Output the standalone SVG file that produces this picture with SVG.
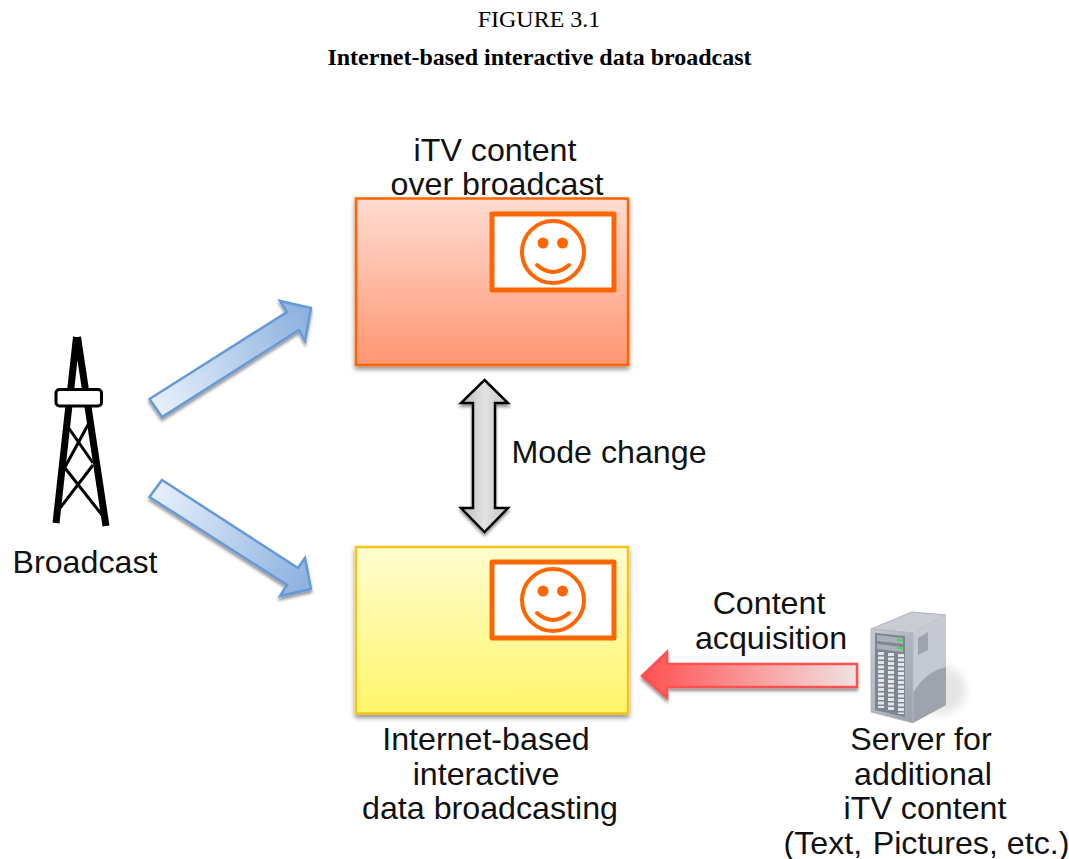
<svg xmlns="http://www.w3.org/2000/svg" width="1069" height="859" viewBox="0 0 1069 859">
<style>
.t{font-family:"Liberation Sans",Arial,sans-serif;font-size:32.200px;fill:#111;text-anchor:middle}
.cap{font-family:"Liberation Serif","Times New Roman",serif;font-size:24px;fill:#000;text-anchor:middle}
.frame{fill:#fff;stroke:#f60;stroke-width:5;stroke-linejoin:round}
.face{fill:none;stroke:#f60;stroke-width:4;stroke-linecap:round}
.eye{fill:#f60}
.blue{stroke:#659ad6;stroke-width:2.500;stroke-linejoin:miter;filter:url(#sh)}
.tw{stroke:#000;fill:none;stroke-linecap:butt}
</style>
<defs>
<filter id="sh" x="-20%" y="-20%" width="140%" height="140%"><feDropShadow dx="0" dy="3" stdDeviation="1.500" flood-color="#000" flood-opacity="0.4"/></filter>
<filter id="sh2" x="-20%" y="-20%" width="140%" height="140%"><feDropShadow dx="0" dy="3" stdDeviation="2.500" flood-color="#000" flood-opacity="0.45"/></filter>
<filter id="soft" x="-30%" y="-30%" width="160%" height="160%"><feGaussianBlur stdDeviation="5"/></filter>
<linearGradient id="org" x1="0" y1="0" x2="0" y2="1"><stop offset="0" stop-color="#ffdcd2"/><stop offset="1" stop-color="#ff9672"/></linearGradient>
<linearGradient id="yel" x1="0" y1="0" x2="0" y2="1"><stop offset="0" stop-color="#fffdd0"/><stop offset="1" stop-color="#fff56a"/></linearGradient>
<linearGradient id="b1" gradientUnits="userSpaceOnUse" x1="155" y1="408" x2="305" y2="318"><stop offset="0" stop-color="#e8f0fb"/><stop offset="1" stop-color="#8fb3e0"/></linearGradient>
<linearGradient id="b2" gradientUnits="userSpaceOnUse" x1="155" y1="488" x2="305" y2="578"><stop offset="0" stop-color="#e8f0fb"/><stop offset="1" stop-color="#8fb3e0"/></linearGradient>
<linearGradient id="red" gradientUnits="userSpaceOnUse" x1="642" y1="0" x2="857" y2="0"><stop offset="0" stop-color="#ff5050"/><stop offset="1" stop-color="#f0e2e2"/></linearGradient>
<linearGradient id="gr" x1="0" y1="0" x2="1" y2="0"><stop offset="0" stop-color="#bcbcbc"/><stop offset="0.5" stop-color="#e2e2e2"/><stop offset="1" stop-color="#c4c4c4"/></linearGradient>
<linearGradient id="sf" x1="0" y1="0" x2="1" y2="1"><stop offset="0" stop-color="#c5cad3"/><stop offset="1" stop-color="#9aa0ac"/></linearGradient>
<g id="smile">
<rect class="frame" x="492" y="0" width="122" height="76"/>
<circle class="face" cx="553" cy="38" r="31"/>
<circle class="eye" cx="543" cy="29" r="5.500"/><circle class="eye" cx="562.500" cy="29" r="5.500"/>
<path class="face" d="M537 51Q553 65 569 51"/>
</g>
</defs>
<g id="caption">
<text class="cap" x="539" y="27">FIGURE 3.1</text>
<text class="cap" x="539.500" y="65" font-weight="bold">Internet-based interactive data broadcast</text>
</g>
<g id="node-itv">
<rect x="356" y="198.500" width="272" height="166.500" fill="url(#org)" stroke="#f60" stroke-width="2.500" filter="url(#sh2)"/>
<use href="#smile" y="214"/>
<text class="t" x="495" y="160.500">iTV content</text>
<text class="t" x="497" y="194.500">over broadcast</text>
</g>
<g id="node-data">
<rect x="356" y="547" width="272" height="166.500" fill="url(#yel)" stroke="#f5c518" stroke-width="2.500" filter="url(#sh2)"/>
<use href="#smile" y="562"/>
<text class="t" x="486" y="749.500">Internet-based</text>
<text class="t" x="486" y="784.500">interactive</text>
<text class="t" x="490" y="818.500">data broadcasting</text>
</g>
<g id="node-tower">
<g class="tw">
<path stroke-width="7" d="M56 523L76.500 337M106 526L77.500 337"/>
<path stroke-width="3" d="M68 427L93 463M89 423L65 467M65 468L102 515M93 465L57 512"/>
</g>
<rect x="56" y="389.500" width="45.500" height="16.500" rx="3.500" fill="#fff" stroke="#000" stroke-width="3"/>
<text class="t" x="85" y="572.500">Broadcast</text>
</g>
<g id="node-server">
<ellipse cx="940" cy="690" rx="26" ry="24" fill="#000" opacity="0.1" filter="url(#soft)"/>
<path d="M871 629L912 612L946 615L913 633Z" fill="#c9ccd3" stroke="#aeb2bb"/>
<path d="M913 633L946 615L946 705L913 723Z" fill="#c5c9d1"/>
<path d="M913 693Q925 672 946 667V705L913 723Z" fill="#9ea3ae"/>
<path d="M918 638L928 632L928 650L918 655Z" fill="#9ea3ad"/>
<path d="M871 629L913 633L913 723L871 712Z" fill="url(#sf)" stroke="#b4b8c0"/>
<path d="M875 633L905 636L905 717L875 710Z" fill="#80868f"/>
<path d="M877 635L903 638L903 644L877 641Z M877 644L903 647L903 652L877 649Z" fill="#aab0ba"/>
<path d="M897 639L903 639.500L903 641.500L897 641Z M897 647L903 647.500L903 649.500L897 649Z" fill="#3ddc4a"/>
<path d="M881 652V708M891 653V711M901 654V714" stroke="#e3e6ea" stroke-width="6" stroke-dasharray="3 1.500" fill="none"/>
<text class="t" x="921" y="749.500">Server for</text>
<text class="t" x="923" y="784.500">additional</text>
<text class="t" x="925" y="818.500">iTV content</text>
<text class="t" x="926.500" y="853.500">(Text, <tspan dx="1.500">Pictures, etc.)</tspan></text>
</g>
<g id="connectors">
<path class="blue" fill="url(#b1)" d="M149.500 399L287 312L280 301L311 308L305 341L299 330L162 417Z"/>
<path class="blue" fill="url(#b2)" d="M162 480L298 568L305 558L311 589L280 596L287 585L149.500 497Z"/>
<path d="M484.500 380L508 403H495V508H508L484.500 532L461 508H473V403H461Z" fill="url(#gr)" stroke="#000" stroke-width="2.500" stroke-linejoin="miter" filter="url(#sh)"/>
<path d="M642 676L667 652V664H857V687H667V698Z" fill="url(#red)" stroke="#ff5050" stroke-width="2.500" filter="url(#sh)"/>
<text class="t" x="609" y="462.500">Mode change</text>
<text class="t" x="769" y="613.500">Content</text>
<text class="t" x="771" y="648.500">acquisition</text>
</g>
</svg>
